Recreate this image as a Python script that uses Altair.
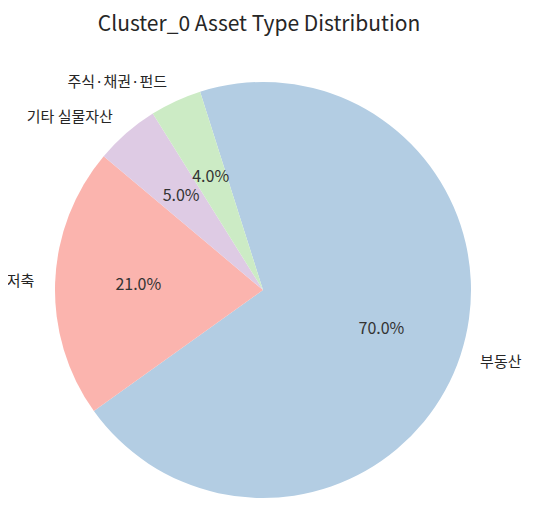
import math
import altair as alt
import pandas as pd

# data (clockwise drawing order starting near the top)
labels = ["부동산", "저축", "기타 실물자산", "주식·채권·펀드"]
values = [70.0, 21.0, 5.0, 4.0]
colors = ["#b3cde3", "#fbb4ae", "#decbe4", "#ccebc5"]
order = [0, 1, 2, 3]

df = pd.DataFrame({"label": labels, "value": values, "order": order,
                   "pct": [f"{v:.1f}%" for v in values]})

FONT = "Noto Sans CJK KR"
R = 208
OFF = math.radians(-17.6)
CX, CY = 255, 242

theta_scale = alt.Scale(domain=[0, 100], range=[OFF, OFF + 2 * math.pi])
color_scale = alt.Scale(domain=labels, range=colors)

base = alt.Chart(df).transform_window(
    cum="sum(value)", sort=[alt.SortField("order")], frame=[None, 0]
).transform_calculate(
    start="datum.cum - datum.value", mid="datum.cum - datum.value / 2"
)

arcs = base.mark_arc(outerRadius=R).encode(
    theta=alt.Theta("start:Q", scale=theta_scale),
    theta2="cum:Q",
    color=alt.Color("label:N", scale=color_scale, legend=None),
    x=alt.value(CX), y=alt.value(CY),
)

pct = base.mark_text(radius=R * 0.6, fontSize=16, font=FONT, color="#333333",
                     baseline="middle", align="center").encode(
    theta=alt.Theta("mid:Q", scale=theta_scale),
    text="pct:N",
    x=alt.value(CX), y=alt.value(CY),
)

lab_right = base.transform_filter(alt.datum.label == "부동산").mark_text(
    radius=R * 1.1, fontSize=15, font=FONT, color="#262626",
    baseline="middle", align="left").encode(
    theta=alt.Theta("mid:Q", scale=theta_scale),
    text="label:N",
    x=alt.value(CX), y=alt.value(CY),
)

lab_left = base.transform_filter(alt.datum.label != "부동산").mark_text(
    radius=R * 1.1, fontSize=15, font=FONT, color="#262626",
    baseline="middle", align="right").encode(
    theta=alt.Theta("mid:Q", scale=theta_scale),
    text="label:N",
    x=alt.value(CX), y=alt.value(CY),
)

chart = alt.layer(arcs, pct, lab_right, lab_left).properties(
    width=518, height=454,
    title=alt.TitleParams("Cluster_0 Asset Type Distribution", fontSize=21,
                          font=FONT, fontWeight="normal", color="#262626",
                          anchor="middle", dx=-8, offset=13),
    padding={"left": 0, "right": 0, "top": 40, "bottom": 0},
    autosize=alt.AutoSizeParams(type="none"),
).configure_view(stroke=None)

chart.save("out.html", embed_options={"renderer": "svg", "actions": False})
